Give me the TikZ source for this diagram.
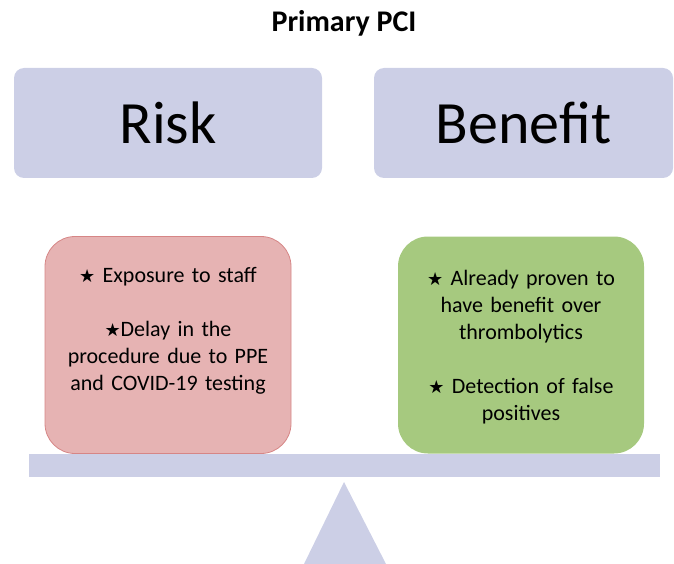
\documentclass[tikz,border=0pt]{standalone}
\usepackage{fontspec}
\setmainfont{Carlito}
\newfontfamily\symfont{DejaVu Sans}
\newcommand{\bstar}{{\symfont\fontsize{18}{18}\selectfont ★}}
\definecolor{lavender}{RGB}{204,207,230}
\definecolor{riskred}{RGB}{230,179,179}
\definecolor{riskline}{RGB}{214,134,134}
\definecolor{gaingreen}{RGB}{166,201,127}
\tikzset{
  headbox/.style={fill=lavender, rounded corners=10pt, minimum width=308pt, minimum height=110pt,
    font=\fontsize{60}{62}\selectfont},
  padbox/.style={rounded corners=30pt, minimum width=246pt, minimum height=217pt},
  padtext/.style={text width=236pt, align=center, font=\fontsize{22}{27}\selectfont}
}
\begin{document}
\begin{tikzpicture}[x=1pt,y=-1pt]
  \useasboundingbox (0,0) rectangle (674,564);
  \node[font=\bfseries\fontsize{30}{32}\selectfont] (title) at (344,23) {Primary PCI};
  \node[headbox] (risk) at (168,123) {Risk};
  \node[headbox, minimum width=299pt] (benefit) at (523.5,123) {Benefit};
  \fill[lavender] (29,454) rectangle (660,477);
  \fill[lavender] (344,482) -- (386,564) -- (304,564) -- cycle;
  \node[padbox, fill=riskred, draw=riskline, line width=0.8pt] (cons) at (168,345) {};
  \node[padbox, fill=gaingreen] (pros) at (521,345) {};
  \node[padtext] (constext) at (168,331) {\bstar{} Exposure to staff\\[27pt]
    \bstar Delay in the\\ procedure due to PPE\\ and COVID-19 testing};
  \node[padtext] (prostext) at (521,347) {\bstar{} Already proven to\\ have benefit over\\ thrombolytics\\[27pt]
    \bstar{} Detection of false\\ positives};
\end{tikzpicture}
\end{document}
